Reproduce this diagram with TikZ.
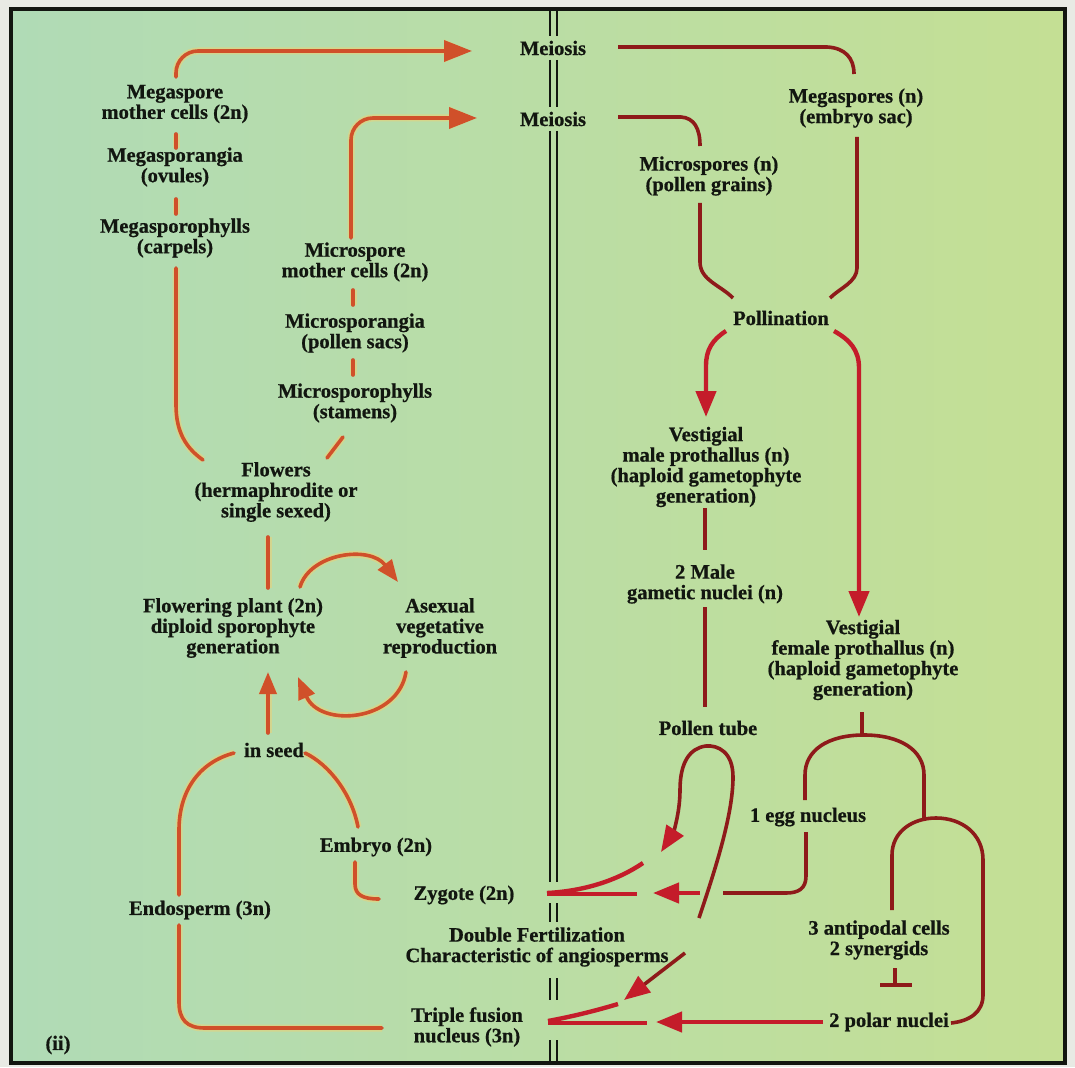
\documentclass[tikz,border=0pt]{standalone}
\usepackage{fontspec}
\setmainfont{Liberation Serif}[BoldFeatures={FakeBold=0.7}]
\usetikzlibrary{arrows.meta,calc}
\definecolor{ink}{HTML}{121610}
\definecolor{ored}{HTML}{D0502A}
\definecolor{halo}{HTML}{F2D070}
\definecolor{maroon}{HTML}{8E1A1A}
\definecolor{cred}{HTML}{C41C2A}
\definecolor{bgL}{HTML}{B0DBB6}
\definecolor{bgM}{HTML}{B6DCA6}
\definecolor{bgR}{HTML}{C4DF94}
\definecolor{paper}{HTML}{E8EAE4}
\begin{document}
\begin{tikzpicture}[x=1pt,y=-1pt,
  lbl/.style={font=\fontsize{20.5}{20.5}\selectfont\bfseries, align=center, inner sep=0pt, text=ink},
  oline/.style={draw=ored, line width=3.6pt, line cap=round, preaction={draw=halo, line width=7pt, opacity=0.5}},
  otip/.style={-{Triangle[length=22pt,width=17pt]}},
  otipb/.style={-{Triangle[length=28pt,width=21pt]}},
  mline/.style={draw=maroon, line width=3.6pt},
  rline/.style={draw=cred, line width=4.4pt},
  rtip/.style={-{Triangle[length=26pt,width=20pt,color=cred]}},
  dline/.style={draw=ink, line width=2.4pt}]
\useasboundingbox (0,0) rectangle (1075,1067);
\fill[paper] (0,0) rectangle (1075,1067);
\shade[left color=bgL, middle color=bgM, right color=bgR] (11,9) rectangle (1065,1063);
\draw[ink, line width=4pt] (11,9) rectangle (1065,1063);

% central divider
\foreach \xx in {550,557}{
  \foreach \ya/\yb in {9/36, 60/107, 131/882, 903/922, 978/1000, 1040/1063}
    \draw[dline] (\xx,\ya) -- (\xx,\yb);
}

% nodes
\node[lbl] (meio1) at (553,48) {Meiosis};
\node[lbl] (meio2) at (553,119) {Meiosis};
\node[lbl] (mmc) at (175,104) {Megaspore\\mother cells (2n)};
\node[lbl] (mspg) at (175,167) {Megasporangia\\(ovules)};
\node[lbl] (mspph) at (175,238) {Megasporophylls\\(carpels)};
\node[lbl] (mimc) at (355,262) {Microspore\\mother cells (2n)};
\node[lbl] (misp) at (355,333) {Microsporangia\\(pollen sacs)};
\node[lbl] (misph) at (355,403) {Microsporophylls\\(stamens)};
\node[lbl] (flow) at (276,492) {Flowers\\(hermaphrodite or\\single sexed)};
\node[lbl] (fplant) at (233,628) {Flowering plant (2n)\\diploid sporophyte\\generation};
\node[lbl] (asex) at (440,628) {Asexual\\vegetative\\reproduction};
\node[lbl] (seed) at (274,750) {in seed};
\node[lbl] (embryo) at (376,847) {Embryo (2n)};
\node[lbl] (zyg) at (464,895) {Zygote (2n)};
\node[lbl] (endo) at (200,910) {Endosperm (3n)};
\node[lbl] (dfert) at (537,947) {Double Fertilization\\Characteristic of angiosperms};
\node[lbl] (tfn) at (467,1027) {Triple fusion\\nucleus (3n)};
\node[lbl] (ii) at (58,1045) {(ii)};
\node[lbl] (megs) at (856,108) {Megaspores (n)\\(embryo sac)};
\node[lbl] (mics) at (709,176) {Microspores (n)\\(pollen grains)};
\node[lbl] (poll) at (781,318) {Pollination};
\node[lbl] (vmp) at (706,467) {Vestigial\\male prothallus (n)\\(haploid gametophyte\\generation)};
\node[lbl] (male2) at (705,584) {2 Male\\gametic nuclei (n)};
\node[lbl] (ptube) at (708,728) {Pollen tube};
\node[lbl] (vfp) at (863,660) {Vestigial\\female prothallus (n)\\(haploid gametophyte\\generation)};
\node[lbl] (egg) at (808,817) {1 egg nucleus};
\node[lbl] (anti) at (879,940) {3 antipodal cells\\2 synergids};
\node[lbl] (polar) at (889,1022) {2 polar nuclei};

% ---- left (sporophyte) side
\draw[oline, otipb, rounded corners=22pt] ($(mmc)+(1,-27)$) |- ($(meio1)+(-81,3)$);
\draw[oline, otipb, rounded corners=22pt] ($(mimc)+(-4,-24)$) |- ($(meio2)+(-76,-1)$);
\draw[oline] ($(mmc)+(1,30)$) -- ($(mspg)+(1,-19)$);
\draw[oline] ($(mspg)+(1,32)$) -- ($(mspph)+(1,-24)$);
\draw[oline] ($(mimc)+(-2,28)$) -- ($(misp)+(-2,-28)$);
\draw[oline] ($(misp)+(-2,27)$) -- ($(misph)+(-2,-28)$);
\draw[oline] ($(misph)+(-12,34)$) -- ($(flow)+(51,-34)$);
\draw[oline] ($(mspph)+(1,30)$) -- (176,405) .. controls (176,432) and (186,448) .. ($(flow)+(-73,-32)$);
\draw[oline] ($(flow)+(-8,45)$) -- ($(fplant)+(35,-40)$);
\draw[oline, otip] ($(fplant)+(67,-41)$) .. controls (310,553) and (370,545) .. ($(asex)+(-42,-46)$);
\draw[oline, otip] ($(asex)+(-34,44)$) .. controls (398,722) and (320,728) .. ($(fplant)+(65,49)$);
\draw[oline, otip] ($(seed)+(-6,-17)$) -- ($(fplant)+(35,44)$);
\draw[oline] ($(seed)+(-40,3)$) .. controls (200,762) and (179,790) .. (179,830) -- ($(endo)+(-21,-15)$);
\draw[oline] ($(seed)+(31,3)$) .. controls (330,765) and (352,795) .. ($(embryo)+(-18,-20)$);
\draw[oline] ($(embryo)+(-21,15)$) -- (355,884) .. controls (355,895) and (363,899) .. ($(zyg)+(-85,4)$);
\draw[oline] ($(endo)+(-21,15)$) -- (179,1002) .. controls (179,1020) and (187,1028) .. (205,1028) -- ($(tfn)+(-85,1)$);

% ---- right (gametophyte) side
\draw[mline] ($(meio1)+(65,-1)$) -- (827,47) .. controls (845,48) and (854,58) .. ($(megs)+(-2,-34)$);
\draw[mline] ($(meio2)+(65,-2)$) -- (681,117) .. controls (694,118) and (700,128) .. ($(mics)+(-9,-30)$);
\draw[mline] ($(mics)+(-9,27)$) -- (700,262) .. controls (700,280) and (720,285) .. ($(poll)+(-48,-20)$);
\draw[mline] ($(megs)+(1,29)$) -- (857,268) .. controls (857,282) and (840,288) .. ($(poll)+(49,-20)$);
\draw[rline, rtip] ($(poll)+(-55,13)$) .. controls (712,340) and (706,350) .. (706,366) -- ($(vmp)+(0,-50)$);
\draw[rline, rtip] ($(poll)+(53,13)$) .. controls (850,340) and (859,350) .. (859,368) -- ($(vfp)+(-4,-43)$);
\draw[mline] ($(vmp)+(-1,41)$) -- ($(male2)+(0,-34)$);
\draw[mline] ($(male2)+(0,23)$) -- ($(ptube)+(-3,-21)$);
\draw[mline] ($(vfp)+(-1,52)$) -- (862,735);
\draw[mline] ($(egg)+(-3,-17)$) -- (805,775) .. controls (805,750) and (828,735) .. (864,735)
   .. controls (900,735) and (924,750) .. (924,775) -- (924,818);
\draw[mline] ($(anti)+(13,-30)$) -- (892,855) .. controls (892,832) and (912,818) .. (936,818)
   .. controls (962,818) and (983,834) .. (983,860) -- (983,995)
   .. controls (983,1012) and (970,1021) .. ($(polar)+(62,1)$);
\draw[mline] ($(egg)+(-2,15)$) -- (806,876) .. controls (806,889) and (798,893) .. (786,893) -- (723,893);
\draw[rline, rtip] (700,893) -- ($(zyg)+(189,-2)$);
\draw[mline, rtip] ($(ptube)+(-9,190)$) .. controls (715,870) and (733,815) .. (733,777)
   .. controls (733,752) and (718,745) .. (706,746)
   .. controls (690,748) and (680,762) .. (680,790)
   .. controls (680,815) and (672,835) .. ($(zyg)+(197,-43)$);
\draw[mline, rtip] ($(dfert)+(148,6)$) -- ($(tfn)+(157,-27)$);
\draw[rline] ($(zyg)+(83,-1)$) -- ($(zyg)+(173,-1)$);
\draw[rline] ($(zyg)+(83,-2)$) .. controls (585,891) and (618,880) .. ($(zyg)+(179,-32)$);
\draw[rline] ($(tfn)+(81,-4)$) -- ($(tfn)+(180,-4)$);
\draw[rline] ($(tfn)+(81,-6)$) .. controls (575,1016) and (598,1010) .. (618,1004);
\draw[rline, rtip] ($(polar)+(-66,0)$) -- ($(tfn)+(189,-5)$);
\draw[mline] ($(anti)+(16,28)$) -- ($(anti)+(16,44)$);
\draw[mline] ($(anti)+(1,45)$) -- ($(anti)+(33,45)$);
\end{tikzpicture}
\end{document}
